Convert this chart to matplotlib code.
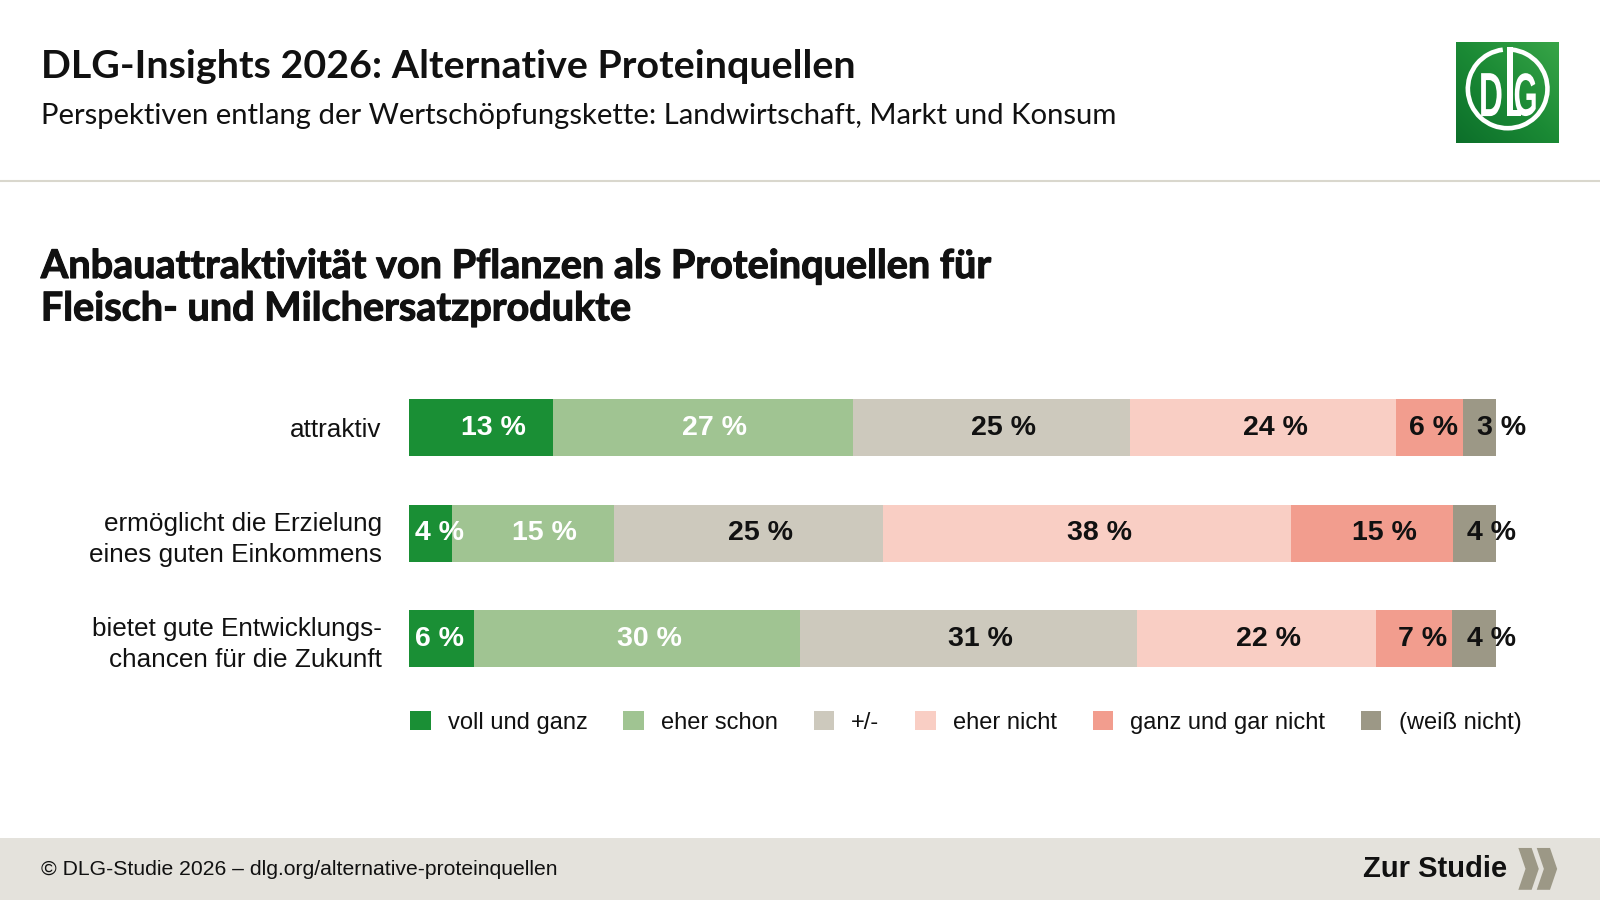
import numpy as np
import matplotlib
matplotlib.use("Agg")
import matplotlib.pyplot as plt
import matplotlib.patches as patches
import matplotlib.patheffects as pe
from matplotlib.textpath import TextPath
from matplotlib.font_manager import FontProperties
from matplotlib.transforms import Affine2D
from matplotlib.colors import LinearSegmentedColormap

# --- data -------------------------------------------------------------
categories = ["attraktiv",
              "ermöglicht die Erzielung\neines guten Einkommens",
              "bietet gute Entwicklungs-\nchancen für die Zukunft"]
answers = ["voll und ganz", "eher schon", "+/-", "eher nicht",
           "ganz und gar nicht", "(weiß nicht)"]
voll_und_ganz = [13, 4, 6]
eher_schon = [27, 15, 30]
neutral = [25, 25, 31]
eher_nicht = [24, 38, 22]
gar_nicht = [6, 15, 7]
weiss_nicht = [3, 4, 4]

colors = ["#1a8f35", "#a0c492", "#cdc9bd", "#f9cec4", "#f29d8e", "#9c9886"]
label_colors = ["white", "white", "#111111", "#111111", "#111111", "#111111"]

title = "DLG-Insights 2026: Alternative Proteinquellen"
subtitle = "Perspektiven entlang der Wertschöpfungskette: Landwirtschaft, Markt und Konsum"
chart_title = "Anbauattraktivität von Pflanzen als Proteinquellen für\nFleisch- und Milchersatzprodukte"
footer = "© DLG-Studie 2026 – dlg.org/alternative-proteinquellen"

HEAD_FONT = ["Lato", "DejaVu Sans"]
BODY_FONT = ["Liberation Sans", "DejaVu Sans"]

# layout grid of the reference (px)
W, H = 1568, 882
S = 1600 / W


def fx(px):
    return px / W


def fy(py):
    return 1 - py / H


fig = plt.figure(figsize=(16, 9), dpi=100)
fig.patch.set_facecolor("white")

# background / decoration axes in reference px coords
bg = fig.add_axes([0, 0, 1, 1])
bg.set_xlim(0, W)
bg.set_ylim(H, 0)
bg.axis("off")

bg.plot([0, W], [177, 177], color="#d9d7cd", lw=1.5, solid_capstyle="butt")
bg.add_patch(patches.Rectangle((0, 821), W, H - 821, color="#e4e2dc", lw=0))

renderer = fig.canvas.get_renderer()


def fit_width(t, target_px):
    bb = t.get_window_extent(renderer)
    t.set_fontsize(t.get_fontsize() * target_px * S / bb.width)


t1 = bg.text(40, 76, title, family=HEAD_FONT, fontsize=26, weight="bold",
             color="#111111", va="baseline", ha="left")
fit_width(t1, 798)
t2 = bg.text(40, 122, subtitle, family=HEAD_FONT, fontsize=19,
             color="#111111", va="baseline", ha="left")
fit_width(t2, 1055)
t3 = bg.text(40, 314, chart_title, family=HEAD_FONT, fontsize=26, weight="bold",
             color="#111111", va="baseline", ha="left", linespacing=1.18)
fit_width(t3, 932)
t3.set_path_effects([pe.withStroke(linewidth=0.8, foreground="#111111")])

bg.text(40, 852, footer, family=BODY_FONT, fontsize=15.2, color="#111111",
        va="center", ha="left")
bg.text(1477, 852, "Zur Studie", family=BODY_FONT, fontsize=21, weight="bold",
        color="#111111", va="center", ha="right")
for x0 in (1488, 1506):
    chev = [(x0, 831), (x0 + 13, 831), (x0 + 20, 851.5), (x0 + 13, 872),
            (x0, 872), (x0 + 7, 851.5)]
    bg.add_patch(patches.Polygon(chev, closed=True, color="#9c9886", lw=0))

# --- logo ---------------------------------------------------------------
lg = fig.add_axes([fx(1427), fy(140), fx(1527) - fx(1427), (140 - 41) / H])
lg.set_xlim(0, 100)
lg.set_ylim(100, 0)
lg.axis("off")
gx, gy = np.meshgrid(np.linspace(0, 1, 120), np.linspace(0, 1, 120))
grad = (gx + (1 - gy)) / 2
cmap = LinearSegmentedColormap.from_list("dlg", ["#0c6f2a", "#1b8a35", "#38a548"])
lg.imshow(grad, cmap=cmap, extent=(0, 100, 100, 0), origin="upper", aspect="auto")
lg.add_patch(patches.Arc((50.5, 46.5), 78, 78, theta1=-84, theta2=263,
                         color="white", lw=4.6 * 0.72))
lg.add_patch(patches.Rectangle((50, 5), 5.5, 68.5, color="white", lw=0))
lg.add_patch(patches.Rectangle((50, 67), 14, 6.5, color="white", lw=0))
fp = FontProperties(family="Liberation Sans", weight="bold")
for ch, (x0, x1) in (("D", (24.5, 44.5)), ("G", (57.5, 78))):
    tp = TextPath((0, 0), ch, size=50, prop=fp)
    ext = tp.get_extents()
    sx = (x1 - x0) / ext.width
    sy = 42.5 / ext.height
    tr = Affine2D().translate(-ext.x0, -ext.y0).scale(sx, -sy).translate(x0, 73.5)
    lg.add_patch(patches.PathPatch(tr.transform_path(tp), color="white", lw=0))

# --- bars ---------------------------------------------------------------
values = np.array([voll_und_ganz, eher_schon, neutral, eher_nicht,
                   gar_nicht, weiss_nicht], dtype=float)
shares = values / values.sum(axis=0) * 100

ax = fig.add_axes([fx(401), fy(677.75), fx(1466) - fx(401), (677.75 - 367.25) / H])
ax.patch.set_alpha(0)
ax.set_xlim(0, 100)
ax.set_ylim(2.5, -0.5)
rows = np.arange(len(categories))

left = np.zeros(len(categories))
for k in range(len(answers)):
    ax.barh(rows, shares[k], left=left, height=0.54, color=colors[k], lw=0)
    for r in rows:
        w = shares[k, r]
        lab = f"{values[k, r]:.0f} %"
        if w >= 10:
            x, ha = left[r] + w / 2 + 1.1, "center"
        elif k == len(answers) - 1:
            x, ha = left[r] + 1.3, "left"
        elif k == 0:
            x, ha = left[r] + 0.55, "left"
        else:
            x, ha = left[r] + w - 0.45, "right"
        ax.text(x, r, lab, ha=ha, va="center", color=label_colors[k],
                family=BODY_FONT, weight="bold", fontsize=20.5)
    left += shares[k]

ax.set_yticks(rows, categories)
ax.tick_params(axis="y", length=0, pad=19.8, labelsize=18.8)
for lab in ax.get_yticklabels():
    lab.set_family(BODY_FONT)
    lab.set_color("#111111")
    lab.set_multialignment("right")
    lab.set_linespacing(1.36)
ax.set_xticks([])
for sp in ax.spines.values():
    sp.set_visible(False)

handles = [patches.Patch(facecolor=c, edgecolor="none") for c in colors]
leg = fig.legend(handles, answers, loc="center left",
                 bbox_to_anchor=(fx(402), fy(708)), ncol=6, frameon=False,
                 prop={"family": BODY_FONT, "size": 17},
                 handlelength=0.86, handleheight=0.86, handletextpad=0.73,
                 columnspacing=1.52, borderpad=0, borderaxespad=0)
for t in leg.get_texts():
    t.set_color("#111111")

fig.savefig("out.png", dpi=100, facecolor="white")
